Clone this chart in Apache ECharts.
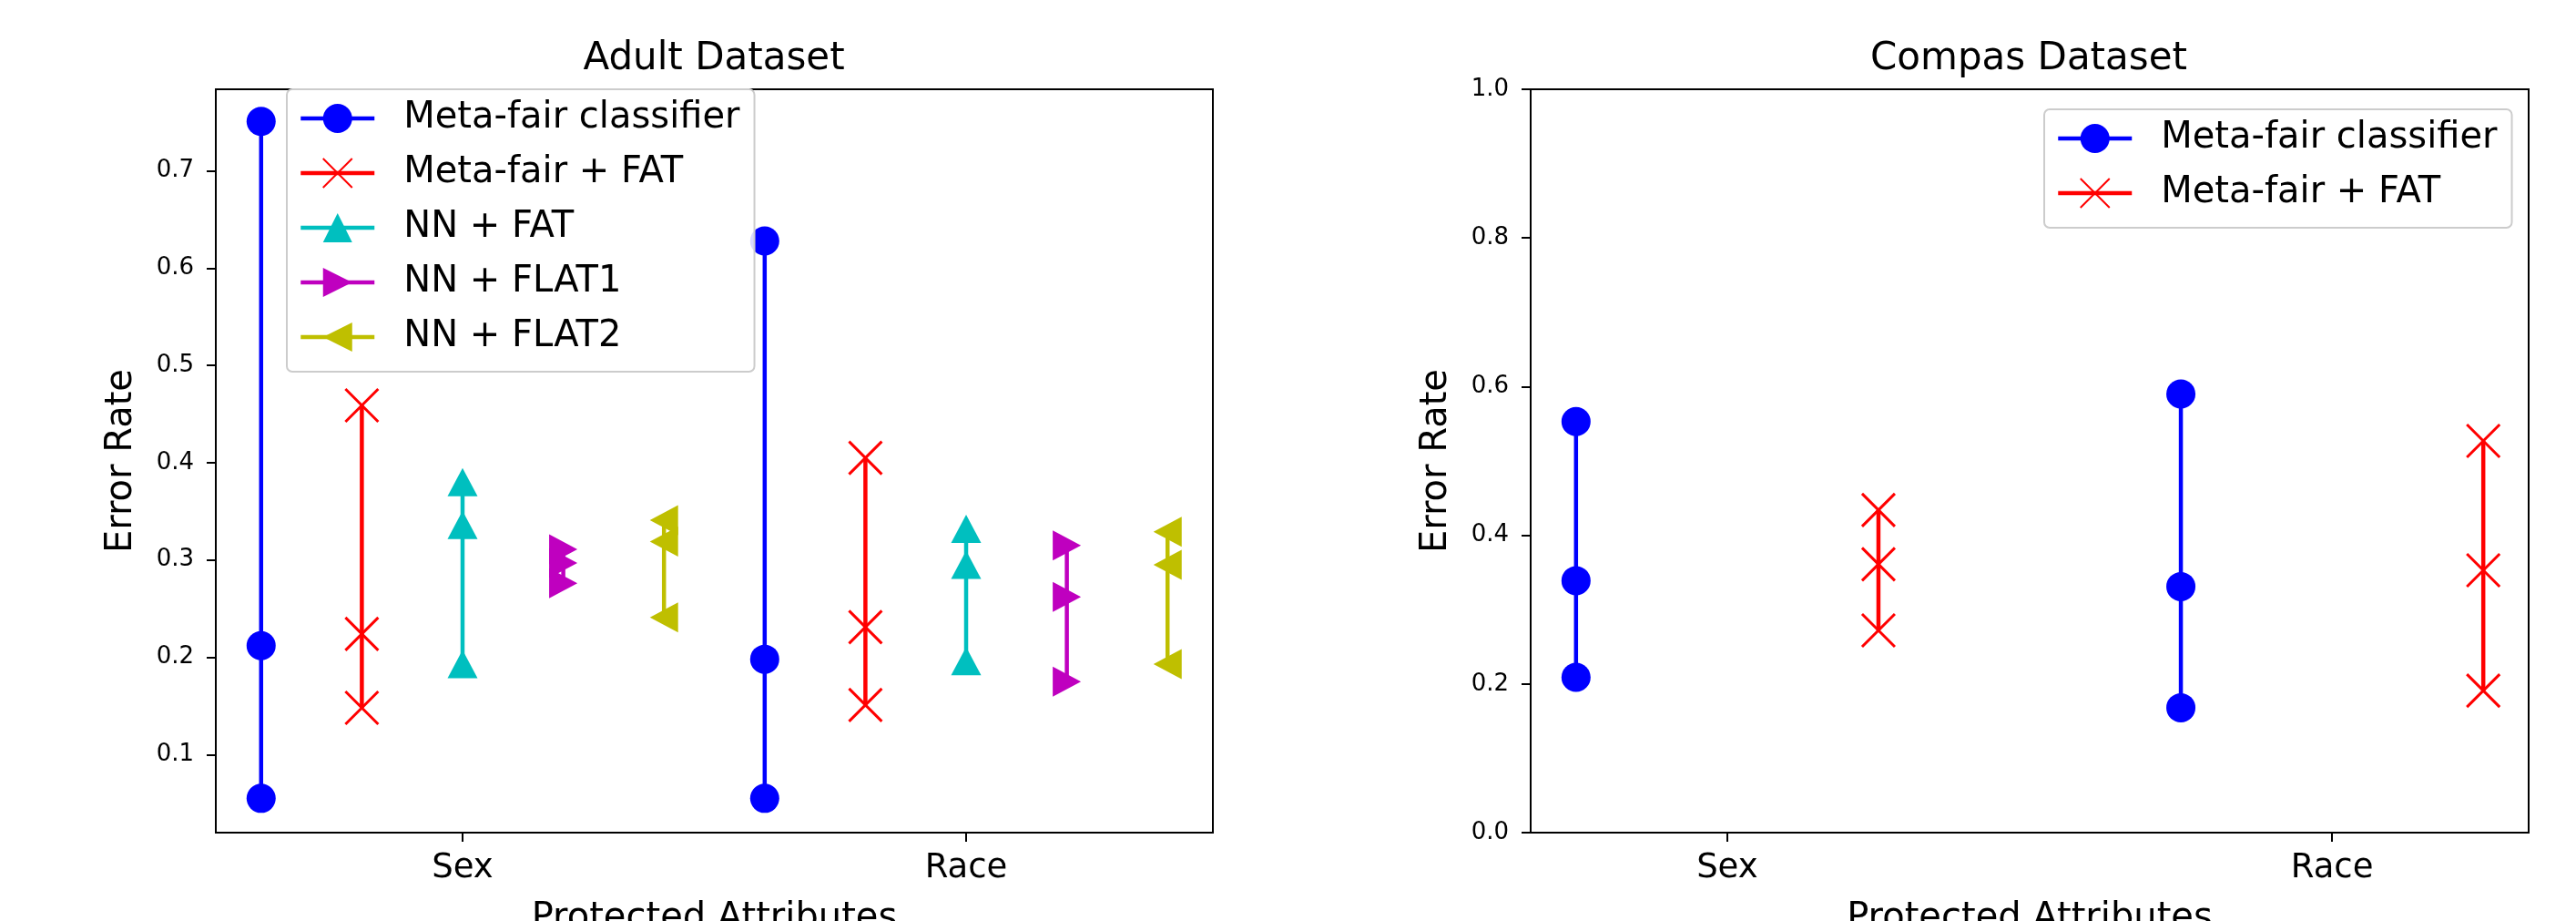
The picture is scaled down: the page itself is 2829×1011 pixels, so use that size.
<!DOCTYPE html>
<html>
<head>
<meta charset="utf-8">
<script src="https://cdn.jsdelivr.net/npm/echarts@6/dist/echarts.min.js"></script>
<style>
  html, body { margin: 0; padding: 0; background: #fff; }
  #chart { width: 2829px; height: 1011px; }
</style>
</head>
<body>
<div id="chart"></div>
<script>
// attributes on the x axis
var categories = ['Sex', 'Race'];

// Adult dataset, three error rates per attribute: [Sex, Race]
var adultMetaFair     = [[0.055, 0.212, 0.751], [0.055, 0.198, 0.628]];
var adultMetaFairFat  = [[0.148, 0.224, 0.459], [0.151, 0.231, 0.405]];
var adultNnFat        = [[0.193, 0.336, 0.380], [0.196, 0.295, 0.332]];
var adultNnFlat1      = [[0.276, 0.297, 0.311], [0.175, 0.262, 0.315]];
var adultNnFlat2      = [[0.241, 0.319, 0.341], [0.193, 0.295, 0.329]];

// Compas dataset
var compasMetaFair    = [[0.209, 0.339, 0.553], [0.168, 0.331, 0.590]];
var compasMetaFairFat = [[0.272, 0.361, 0.434], [0.191, 0.353, 0.527]];

// tick labels
var adultTicks = [0.1, 0.2, 0.3, 0.4, 0.5, 0.6, 0.7];
var compasTicks = [0.0, 0.2, 0.4, 0.6, 0.8, 1.0];

var FONT = 'DejaVu Sans';
var LINE_W = 4.5;

// look of every method (matplotlib b, r, c, m, y)
var styles = {
  'Meta-fair classifier': { color: '#0000ff', symbol: 'circle', size: 32, rotate: 0 },
  'Meta-fair + FAT': { color: '#ff0000', symbol: 'path://M0,0L10,10M10,0L0,10', size: 36, rotate: 0 },
  'NN + FAT': { color: '#00bfbf', symbol: 'triangle', size: [33, 31], rotate: 0 },
  'NN + FLAT1': { color: '#bf00bf', symbol: 'triangle', size: [33, 31], rotate: -90 },
  'NN + FLAT2': { color: '#bfbf00', symbol: 'triangle', size: [33, 31], rotate: 90 }
};

// one vertical line per attribute, shifted sideways from the tick
function makeSeries(name, values, offset, axisIndex) {
  var st = styles[name];
  return categories.map(function (cat, i) {
    return {
      type: 'line',
      name: name,
      xAxisIndex: axisIndex,
      yAxisIndex: axisIndex,
      data: values[i].map(function (v) { return [i + offset, v]; }),
      symbol: st.symbol,
      symbolSize: st.size,
      symbolRotate: st.rotate,
      showAllSymbol: true,
      clip: false,
      lineStyle: { color: st.color, width: LINE_W },
      itemStyle: { color: st.color, borderColor: st.color, borderWidth: st.symbol.indexOf('path') === 0 ? 3 : 0, opacity: 1 },
      emphasis: { disabled: true },
      z: 3
    };
  });
}

var series = [].concat(
  makeSeries('Meta-fair classifier', adultMetaFair, -0.4, 0),
  makeSeries('Meta-fair + FAT', adultMetaFairFat, -0.2, 0),
  makeSeries('NN + FAT', adultNnFat, 0, 0),
  makeSeries('NN + FLAT1', adultNnFlat1, 0.2, 0),
  makeSeries('NN + FLAT2', adultNnFlat2, 0.4, 0),
  makeSeries('Meta-fair classifier', compasMetaFair, -0.25, 1),
  makeSeries('Meta-fair + FAT', compasMetaFairFat, 0.25, 1)
);

function xAxis(gridIndex, min, max) {
  return {
    type: 'value',
    gridIndex: gridIndex,
    min: min,
    max: max,
    name: 'Protected Attributes',
    nameLocation: 'middle',
    nameGap: 75,
    nameMoveOverlap: false,
    nameTextStyle: { fontFamily: FONT, fontSize: 40, color: '#000' },
    splitLine: { show: false },
    axisLine: { show: true, onZero: false, lineStyle: { color: '#000', width: 2 } },
    axisTick: { show: true, length: 10, customValues: [0, 1], lineStyle: { color: '#000', width: 2 } },
    axisLabel: {
      customValues: [0, 1],
      margin: 21,
      fontFamily: FONT, fontSize: 37, color: '#000',
      formatter: function (v) { return categories[Math.round(v)]; }
    }
  };
}

function yAxis(gridIndex, min, max, ticks) {
  return {
    type: 'value',
    gridIndex: gridIndex,
    min: min,
    max: max,
    name: 'Error Rate',
    nameLocation: 'middle',
    nameGap: 83,
    nameMoveOverlap: false,
    nameTextStyle: { fontFamily: FONT, fontSize: 40, color: '#000' },
    splitLine: { show: false },
    axisLine: { show: true, onZero: false, lineStyle: { color: '#000', width: 2 } },
    axisTick: { show: true, length: 10, customValues: ticks, lineStyle: { color: '#000', width: 2 } },
    axisLabel: {
      customValues: ticks,
      margin: 24,
      fontFamily: FONT, fontSize: 26, color: '#000',
      formatter: function (v) { return v.toFixed(1); }
    }
  };
}

function legend(names, left, top) {
  return {
    data: names,
    orient: 'vertical',
    left: left,
    top: top,
    padding: [12, 16, 18, 13],
    itemWidth: 81,
    itemHeight: 40,
    itemGap: 20,
    backgroundColor: 'rgba(255,255,255,0.85)',
    borderColor: '#cccccc',
    borderWidth: 2,
    borderRadius: 6,
    selectedMode: false,
    z: 10,
    lineStyle: { width: LINE_W },
    textStyle: { fontFamily: FONT, fontSize: 40, color: '#000', lineHeight: 40, padding: [0, 0, 0, 27] }
  };
}

var chart = echarts.init(document.getElementById('chart'), null, { renderer: 'canvas' });
chart.setOption({
  animation: false,
  backgroundColor: '#fff',
  title: [
    { text: 'Adult Dataset', left: 784, top: 44, textAlign: 'center', padding: 0,
      textStyle: { fontFamily: FONT, fontSize: 42, fontWeight: 'normal', color: '#000' } },
    { text: 'Compas Dataset', left: 2228, top: 44, textAlign: 'center', padding: 0,
      textStyle: { fontFamily: FONT, fontSize: 42, fontWeight: 'normal', color: '#000' } }
  ],
  legend: [
    legend(['Meta-fair classifier', 'Meta-fair + FAT', 'NN + FAT', 'NN + FLAT1', 'NN + FLAT2'], 315, 98),
    legend(['Meta-fair classifier', 'Meta-fair + FAT'], 2245, 120)
  ],
  grid: [
    { left: 237, top: 98, width: 1095, height: 816, show: true, borderColor: '#000', borderWidth: 2, outerBoundsMode: 'none' },
    { left: 1681, top: 98, width: 1096, height: 816, show: true, borderColor: '#000', borderWidth: 2, outerBoundsMode: 'none' }
  ],
  xAxis: [xAxis(0, -0.49, 1.49), xAxis(1, -0.325, 1.325)],
  yAxis: [yAxis(0, 0.0197, 0.784, adultTicks), yAxis(1, 0, 1, compasTicks)],
  series: series
});
</script>
</body>
</html>
